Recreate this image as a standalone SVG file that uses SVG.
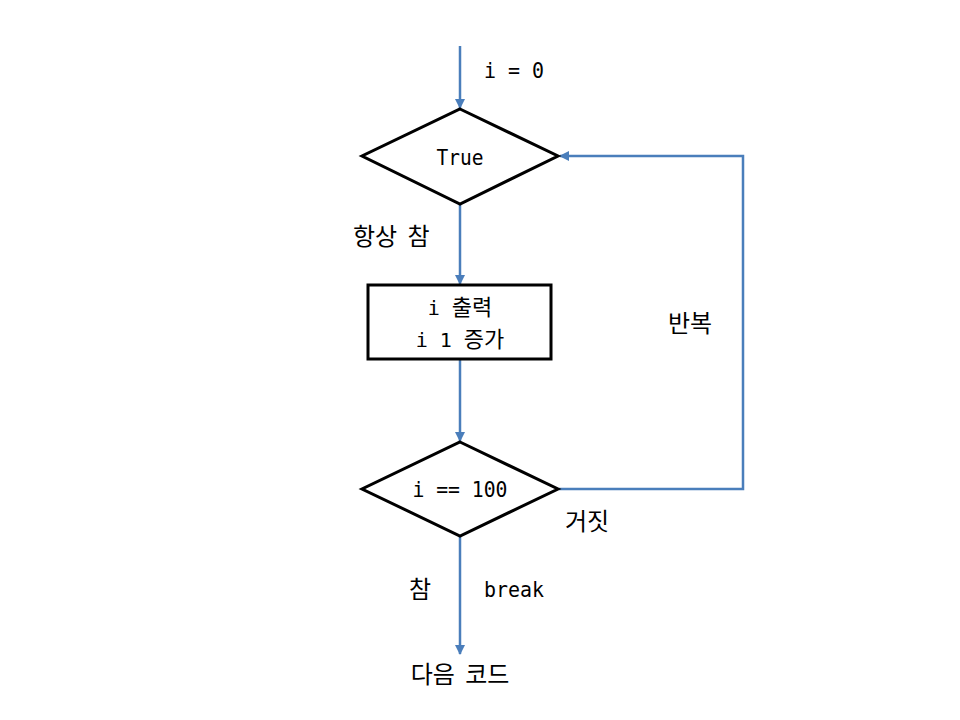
<svg xmlns="http://www.w3.org/2000/svg" width="960" height="720" viewBox="0 0 960 720">
<style>
.shape{fill:#fff;stroke:#000;stroke-width:3}
.conn{fill:none;stroke:#4a7ebb;stroke-width:2.5}
.t{font-family:"DejaVu Sans Mono","Noto Sans CJK KR",monospace;font-size:22px;fill:#000}
.b{font-family:"DejaVu Sans Mono","Noto Sans CJK KR",monospace;font-size:20px;fill:#000}
.kb{font-family:"Noto Sans CJK KR",sans-serif;font-size:22px}
.k{font-family:"Noto Sans CJK KR",sans-serif;font-size:24px;fill:#000;word-spacing:5px}
</style>
<defs>
<marker id="ah" viewBox="0 0 10 10" refX="9" refY="5" markerWidth="4" markerHeight="4" orient="auto" markerUnits="strokeWidth">
<path d="M0,0 L10,5 L0,10 z" fill="#4a7ebb"/>
</marker>
</defs>
<rect width="960" height="720" fill="#fff"/>
<g id="connectors">
<line class="conn" x1="460" y1="46" x2="460" y2="108" marker-end="url(#ah)"/>
<line class="conn" x1="460" y1="205" x2="460" y2="284" marker-end="url(#ah)"/>
<line class="conn" x1="460" y1="360" x2="460" y2="441" marker-end="url(#ah)"/>
<polyline class="conn" points="559,489 743,489 743,156 560,156" marker-end="url(#ah)"/>
<line class="conn" x1="460" y1="537" x2="460" y2="654" marker-end="url(#ah)"/>
</g>
<g id="start-label"><text class="t" x="484" y="78" textLength="60" lengthAdjust="spacingAndGlyphs">i = 0</text></g>
<g id="cond-true">
<polygon class="shape" points="460,109 558,156 460,204 362,156"/>
<text class="t" x="460" y="165" text-anchor="middle" textLength="47" lengthAdjust="spacingAndGlyphs">True</text>
</g>
<g id="label-always"><text class="k" x="353" y="245">항상 참</text></g>
<g id="process">
<rect class="shape" x="368" y="285" width="183" height="74"/>
<text class="b" x="460" y="315" text-anchor="middle">i <tspan class="kb">출력</tspan></text>
<text class="b" x="460" y="347" text-anchor="middle">i 1 <tspan class="kb">증가</tspan></text>
</g>
<g id="label-repeat"><text class="k" x="668" y="332">반복</text></g>
<g id="cond-100">
<polygon class="shape" points="460,442 558,489 460,536 362,489"/>
<text class="t" x="460" y="497" text-anchor="middle" textLength="95" lengthAdjust="spacingAndGlyphs">i == 100</text>
</g>
<g id="label-false"><text class="k" x="565" y="530">거짓</text></g>
<g id="label-true"><text class="k" x="409" y="598">참</text></g>
<g id="label-break"><text class="t" x="484" y="597" textLength="60" lengthAdjust="spacingAndGlyphs">break</text></g>
<g id="next"><text class="k" x="460" y="683" text-anchor="middle">다음 코드</text></g>
</svg>
